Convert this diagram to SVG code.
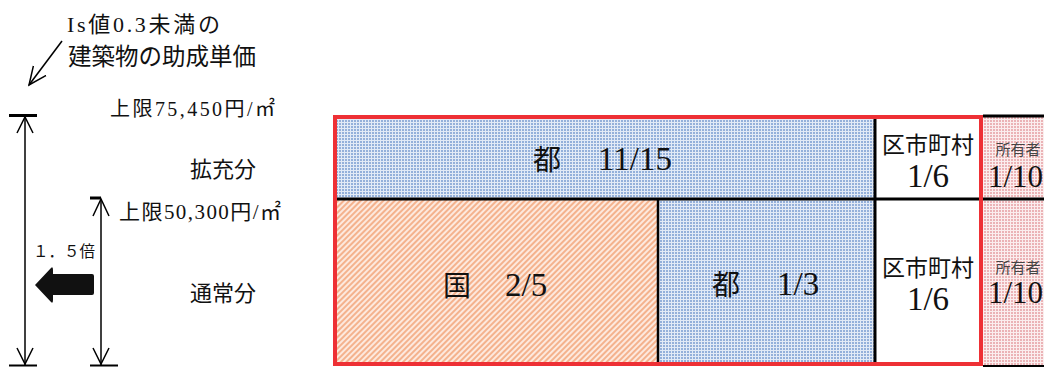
<svg xmlns="http://www.w3.org/2000/svg" width="1044" height="367" viewBox="0 0 1044 367">
<defs>
<pattern id="pBlue" width="3" height="3" patternUnits="userSpaceOnUse">
<rect width="3" height="3" fill="#e2eaf6"/>
<rect width="2" height="2" fill="#94b0da"/>
</pattern>
<pattern id="pOrange" width="4" height="4" patternUnits="userSpaceOnUse" patternTransform="rotate(45)">
<rect width="4" height="4" fill="#fde9de"/>
<rect width="2" height="4" fill="#f4b28d"/>
</pattern>
<pattern id="pPink" width="3" height="3" patternUnits="userSpaceOnUse">
<rect width="3" height="3" fill="#fbeeee"/>
<rect width="2" height="2" fill="#ebb3b6"/>
</pattern>
<marker id="open" viewBox="0 0 20 20" refX="18" refY="10" markerWidth="20" markerHeight="20" markerUnits="userSpaceOnUse" orient="auto">
<path d="M0,2 L18,10 L0,18" fill="none" stroke="#000" stroke-width="1.5"/>
</marker>
<style>
text{font-family:"Liberation Serif","Noto Sans CJK JP",serif;fill:#111}
.t{font-size:22px}
.cell{font-size:28px}
.num{font-size:33px}
.muni{font-size:23px}
.frac{font-size:33px}
.own{font-size:15px;fill:#444}
.line{stroke:#000;fill:none}
</style>
</defs>

<g id="labels">
<text class="t" x="67" y="32" textLength="153" lengthAdjust="spacing">Is値0.3未満の</text>
<text x="68" y="65" style="font-size:23.5px">建築物の助成単価</text>
<text x="110" y="116" style="font-size:20px" textLength="165" lengthAdjust="spacing">上限75,450円/㎡</text>
<text class="t" x="190" y="177">拡充分</text>
<text x="119" y="219" style="font-size:21px" textLength="162" lengthAdjust="spacing">上限50,300円/㎡</text>
<text class="t" x="190" y="301">通常分</text>
<text x="33" y="257" style="font-size:15.5px">１．５倍</text>
</g>

<g id="connectors">
<line class="line" x1="62" y1="41" x2="29" y2="85" stroke-width="1.5" marker-end="url(#open)"/>
<line class="line" x1="9" y1="115.5" x2="37" y2="115.5" stroke-width="3"/>
<line class="line" x1="9" y1="365.5" x2="37" y2="365.5" stroke-width="2"/>
<line class="line" x1="25" y1="117" x2="25" y2="365" stroke-width="1.5"/>
<path class="line" d="M17,133 L25,117 L33,133 M17,348 L25,364 L33,348" stroke-width="1.5"/>
<line class="line" x1="90" y1="198" x2="101" y2="198" stroke-width="3"/>
<line class="line" x1="90" y1="365.5" x2="118" y2="365.5" stroke-width="2"/>
<line class="line" x1="101" y1="199" x2="101" y2="365" stroke-width="1.5"/>
<path class="line" d="M93,216 L101,199 L109,216 M93,348 L101,364 L109,348" stroke-width="1.5"/>
<path id="arrow15" d="M35,285 L51,268 Q53,266 53,270 L53,274 L92,274 Q94,274 94,276 L94,293 Q94,295 92,295 L53,295 L53,300 Q53,304 51,302 Z" fill="#111"/>
</g>

<g id="to-top">
<rect x="335" y="117" width="540" height="82" fill="url(#pBlue)"/>
<text class="cell" y="170"><tspan x="533">都</tspan><tspan class="num" x="598">11/15</tspan></text>
</g>
<g id="muni-top">
<rect x="875" y="117" width="106" height="82" fill="#fff"/>
<text class="muni" x="928" y="153" text-anchor="middle">区市町村</text>
<text class="frac" x="928" y="187" text-anchor="middle">1/6</text>
</g>
<g id="owner-top">
<rect x="983" y="117" width="61" height="82" fill="url(#pPink)"/>
<text class="own" x="1018" y="155" text-anchor="middle">所有者</text>
<text class="frac" x="988" y="187" style="font-size:31px">1/10</text>
</g>
<g id="kuni">
<rect x="335" y="199" width="323" height="165" fill="url(#pOrange)"/>
<text class="cell" y="296"><tspan x="443">国</tspan><tspan class="num" x="505">2/5</tspan></text>
</g>
<g id="to-bottom">
<rect x="658" y="199" width="217" height="165" fill="url(#pBlue)"/>
<text class="cell" y="295"><tspan x="712">都</tspan><tspan class="num" x="777">1/3</tspan></text>
</g>
<g id="muni-bottom">
<rect x="875" y="199" width="106" height="165" fill="#fff"/>
<text class="muni" x="928" y="276" text-anchor="middle">区市町村</text>
<text class="frac" x="928" y="310" text-anchor="middle">1/6</text>
</g>
<g id="owner-bottom">
<rect x="983" y="199" width="61" height="167" fill="url(#pPink)"/>
<text class="own" x="1018" y="273" text-anchor="middle">所有者</text>
<text class="frac" x="988" y="303" style="font-size:31px">1/10</text>
</g>

<g id="grid">
<line class="line" x1="335" y1="199" x2="1044" y2="199" stroke-width="3"/>
<line class="line" x1="658" y1="199" x2="658" y2="364" stroke-width="2.5"/>
<line class="line" x1="875" y1="117" x2="875" y2="364" stroke-width="3"/>
<line class="line" x1="983" y1="116" x2="1044" y2="116" stroke-width="3"/>
<line class="line" x1="983" y1="366" x2="1044" y2="366" stroke-width="2"/>
<rect x="335" y="117" width="646" height="247" fill="none" stroke="#ee3035" stroke-width="4"/>
</g>
</svg>
